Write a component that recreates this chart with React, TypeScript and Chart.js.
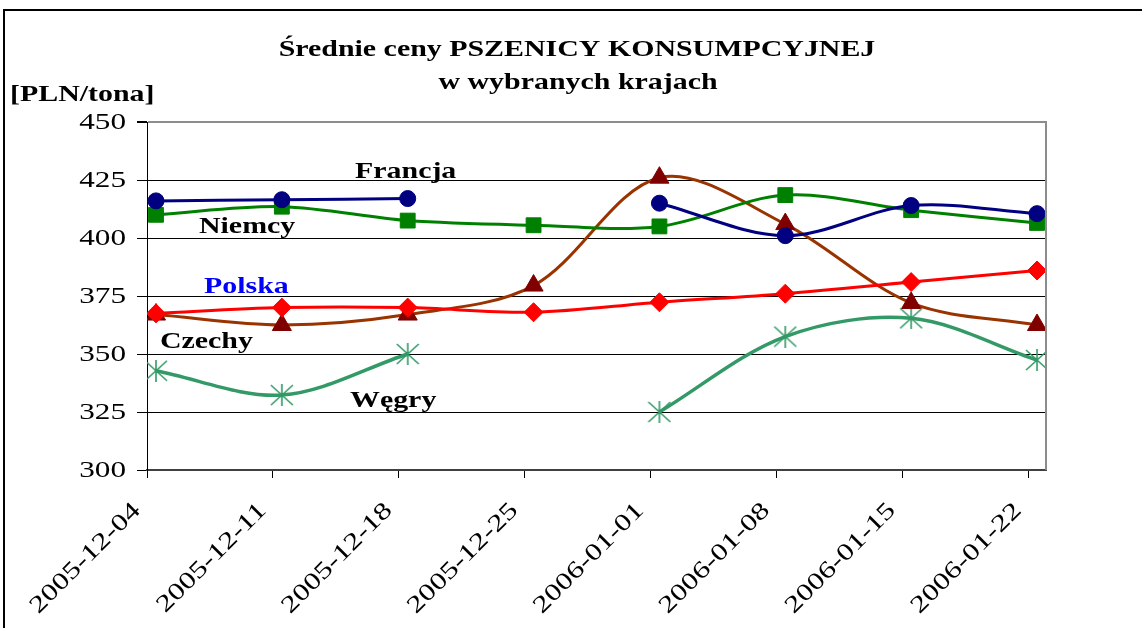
import React, { useEffect, useRef } from 'react';
import { Chart, registerables } from 'chart.js';

Chart.register(...registerables);

// ---- data ----
const dateLabels = [
  '2005-12-04', '2005-12-11', '2005-12-18', '2005-12-25',
  '2006-01-01', '2006-01-08', '2006-01-15', '2006-01-22',
];
const francja = [416, 416.5, 417, null, 415, 401, 414, 410.5];
const niemcy = [410, 413.5, 407.5, 405.5, 405, 418.5, 412, 406.5];
const polska = [367.5, 370, 370, 368, 372.3, 376, 381, 386];
const czechy = [367, 362.5, 367, 379.5, 426, 406, 372, 362.5];
const wegry = [342.8, 332.3, 350, null, 325, 357.5, 365.4, 347.4];
const yMin = 300;
const yMax = 450;
const yStep = 25;
const daysPerStep = 7;
const titleLines = ['Średnie ceny PSZENICY KONSUMPCYJNEJ', 'w wybranych krajach'];
const unitLabel = '[PLN/tona]';
const seriesNames = ['Francja', 'Niemcy', 'Polska', 'Czechy', 'Węgry'];

// label anchors (day offset, value) for the in-plot series names
const nameAnchors = [
  { day: 11.57, value: 426.0, color: '#000000' },
  { day: 2.89, value: 402.0, color: '#000000' },
  { day: 3.17, value: 376.4, color: '#0000FF' },
  { day: 0.72, value: 352.7, color: '#000000' },
  { day: 11.29, value: 327.3, color: '#000000' },
];

const SX = 1.3; // horizontal stretch of all text (like the source picture)
const SERIF = '"Liberation Serif", "Times New Roman", serif';

function toPoints(vals: (number | null)[]) {
  return vals.map((v, i) => ({ x: i * daysPerStep + 0.5, y: v }));
}

function makeStar(): HTMLCanvasElement {
  const c = document.createElement('canvas');
  c.width = 24;
  c.height = 22;
  const g = c.getContext('2d')!;
  g.strokeStyle = '#339966';
  g.lineWidth = 1.6;
  g.beginPath();
  g.moveTo(1, 1); g.lineTo(23, 21);
  g.moveTo(23, 1); g.lineTo(1, 21);
  g.moveTo(12, 0); g.lineTo(12, 22);
  g.stroke();
  return c;
}

function drawText(ctx: CanvasRenderingContext2D, text: string, x: number, y: number, align: CanvasTextAlign, font: string, color: string, rot = 0, baseline: CanvasTextBaseline = 'alphabetic') {
  ctx.save();
  ctx.translate(x, y);
  if (rot) ctx.rotate(rot);
  ctx.scale(SX, 1);
  ctx.font = font;
  ctx.fillStyle = color;
  ctx.textAlign = align;
  ctx.textBaseline = baseline;
  ctx.fillText(text, 0, 0);
  ctx.restore();
}

const decorPlugin = {
  id: 'decor',
  beforeDraw(chart: any) {
    const ctx = chart.ctx as CanvasRenderingContext2D;
    ctx.save();
    ctx.fillStyle = '#ffffff';
    ctx.fillRect(0, 0, chart.width, chart.height);
    ctx.strokeStyle = '#000000';
    ctx.lineWidth = 2;
    ctx.beginPath();
    ctx.moveTo(4, chart.height);
    ctx.lineTo(4, 10);
    ctx.lineTo(chart.width, 10);
    ctx.stroke();
    ctx.restore();
  },
  afterDraw(chart: any) {
    const ctx = chart.ctx as CanvasRenderingContext2D;
    const area = chart.chartArea;
    const xs = chart.scales.x;
    const ys = chart.scales.y;
    // right plot border
    ctx.save();
    ctx.strokeStyle = '#8c8c8c';
    ctx.lineWidth = 2;
    ctx.beginPath();
    ctx.moveTo(area.right, area.top - 1);
    ctx.lineTo(area.right, area.bottom);
    ctx.stroke();
    ctx.restore();

    // title
    drawText(ctx, titleLines[0], 577, 56, 'center', `bold 23px ${SERIF}`, '#000');
    drawText(ctx, titleLines[1], 578, 89, 'center', `bold 23px ${SERIF}`, '#000');
    drawText(ctx, unitLabel, 10, 101, 'left', `bold 23px ${SERIF}`, '#000');

    // y tick labels
    ys.ticks.forEach((t: any) => {
      const py = ys.getPixelForValue(t.value);
      drawText(ctx, String(t.value), area.left - 21, py + 1, 'right', `24px ${SERIF}`, '#000', 0, 'middle');
    });
    // x tick labels
    xs.ticks.forEach((t: any) => {
      const idx = Math.round(t.value / daysPerStep);
      const label = dateLabels[idx];
      if (!label) return;
      const px = xs.getPixelForValue(t.value);
      drawText(ctx, label, px - 10, area.bottom + 37, 'right', `24px ${SERIF}`, '#000', -Math.PI / 4, 'middle');
    });
    // series names inside plot
    nameAnchors.forEach((a, i) => {
      drawText(ctx, seriesNames[i], xs.getPixelForValue(a.day), ys.getPixelForValue(a.value), 'left', `bold 23px ${SERIF}`, a.color);
    });
  },
};

export default function App() {
  const ref = useRef<HTMLCanvasElement>(null);
  useEffect(() => {
    const canvas = ref.current!;
    const star = makeStar();
    const common = { fill: false, tension: 0.33, spanGaps: false, pointBorderWidth: 1 };
    const chart = new Chart(canvas, {
      type: 'line',
      data: {
        datasets: [
          {
            ...common, label: seriesNames[2], data: toPoints(polska),
            borderColor: '#FF0000', borderWidth: 3,
            pointStyle: 'rectRot', pointRadius: 9.5,
            pointBackgroundColor: '#FF0000', pointBorderColor: '#FF0000',
          },
          {
            ...common, label: seriesNames[0], data: toPoints(francja),
            borderColor: '#000080', borderWidth: 3,
            pointStyle: 'circle', pointRadius: 8,
            pointBackgroundColor: '#000080', pointBorderColor: '#000080',
          },
          {
            ...common, label: seriesNames[1], data: toPoints(niemcy),
            borderColor: '#008000', borderWidth: 3,
            pointStyle: 'rect', pointRadius: 10.5,
            pointBackgroundColor: '#008000', pointBorderColor: '#008000',
          },
          {
            ...common, label: seriesNames[3], data: toPoints(czechy),
            borderColor: '#993300', borderWidth: 3,
            pointStyle: 'triangle', pointRadius: 11,
            pointBackgroundColor: '#800000', pointBorderColor: '#800000',
          },
          {
            ...common, label: seriesNames[4], data: toPoints(wegry),
            borderColor: '#339966', borderWidth: 3.5,
            pointStyle: star as any, pointRadius: 11,
            pointBackgroundColor: '#339966', pointBorderColor: '#339966',
          },
        ] as any,
      },
      options: {
        responsive: false,
        animation: false,
        layout: { padding: { left: 0, right: 96, top: 122, bottom: 0 } },
        plugins: {
          legend: { display: false },
          title: { display: false },
          tooltip: { enabled: false },
        },
        scales: {
          x: {
            type: 'linear',
            min: 0,
            max: dateLabels.length * daysPerStep - 6,
            afterBuildTicks: (scale: any) => {
              scale.ticks = dateLabels.map((_, i) => ({ value: i * daysPerStep }));
            },
            afterFit: (scale: any) => { scale.height = 158; },
            ticks: { display: false },
            grid: {
              drawOnChartArea: false,
              drawTicks: true,
              tickLength: 8,
              tickColor: '#000000',
              tickWidth: 1,
            },
            border: { display: true, color: '#404040', width: 2 },
          },
          y: {
            type: 'linear',
            min: yMin,
            max: yMax,
            afterFit: (scale: any) => { scale.width = 147; },
            ticks: { display: false, stepSize: yStep },
            grid: {
              drawTicks: true,
              tickLength: 10,
              tickColor: '#000000',
              color: (c: any) => (c.tick && c.tick.value === yMax ? '#8c8c8c' : '#000000'),
              lineWidth: (c: any) => (c.tick && c.tick.value === yMax ? 2 : 1),
            },
            border: { display: true, color: '#000000', width: 1 },
          },
        },
      } as any,
      plugins: [decorPlugin],
    });
    return () => chart.destroy();
  }, []);
  return (
    <div style={{ position: 'fixed', left: 0, top: 0, width: 1142, height: 628, background: '#fff' }}>
      <canvas ref={ref} width={1142} height={628} style={{ display: 'block' }} />
    </div>
  );
}
